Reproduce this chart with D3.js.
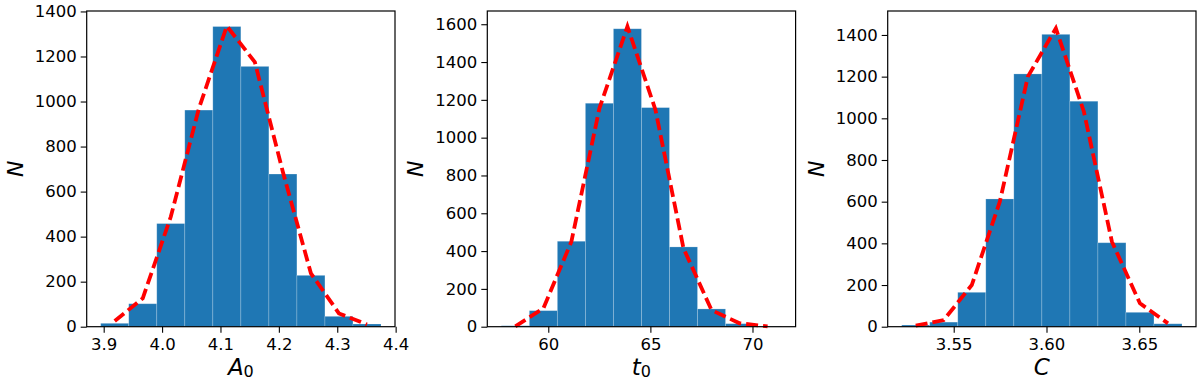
<!DOCTYPE html>
<html>
<head>
<meta charset="utf-8">
<script src="https://cdn.jsdelivr.net/npm/d3@7"></script>
<style>
  body { margin: 0; background: #fff; }
  svg { display: block; }
  text { font-family: "DejaVu Sans", sans-serif; fill: #000; }
</style>
</head>
<body>
<script>
const width = 1200, height = 382;

// A0 histogram
const a0Start = 3.8949, a0Bin = 0.048;
const a0Counts = [15, 102, 458, 962, 1333, 1156, 678, 228, 46, 12];
const a0Fit = [25, 126, 488, 968, 1335, 1175, 687, 237, 59, 10];
const a0Ticks = [3.9, 4.0, 4.1, 4.2, 4.3, 4.4];

// t0 histogram
const t0Start = 57.70, t0Bin = 1.3725;
const t0Counts = [5, 85, 452, 1182, 1576, 1159, 422, 94, 16, 2];
const t0Fit = [2, 97, 450, 1155, 1588, 1147, 415, 88, 18, 2];
const t0Ticks = [60, 65, 70];

// C histogram
const cStart = 3.52198, cBin = 0.015103;
const cCounts = [8, 22, 165, 613, 1213, 1403, 1082, 403, 69, 14];
const cFit = [5, 32, 200, 600, 1200, 1432, 1032, 408, 112, 16];
const cTicks = [3.55, 3.60, 3.65];

const yTicks1400 = [0, 200, 400, 600, 800, 1000, 1200, 1400];
const yTicks1600 = [0, 200, 400, 600, 800, 1000, 1200, 1400, 1600];

function histPanel(start, bin, counts, fit, xTicks, yTicks, yMax, fmt, label) {
    const edges = counts.map((c, i) => start + i * bin);
    const end = start + counts.length * bin;
    const pad = (end - start) * 0.05;
    return {
        bars: counts.map((c, i) => ({ x0: edges[i], x1: edges[i] + bin, n: c })),
        fit: fit.map((v, i) => ({ x: edges[i] + bin / 2, n: v })),
        xDomain: [start - pad, end + pad],
        yMax, xTicks, yTicks, fmt, label
    };
}

const panels = [
    histPanel(a0Start, a0Bin, a0Counts, a0Fit, a0Ticks, yTicks1400, 1402, d3.format(".1f"), ["A", "0"]),
    histPanel(t0Start, t0Bin, t0Counts, t0Fit, t0Ticks, yTicks1600, 1670, d3.format("d"), ["t", "0"]),
    histPanel(cStart, cBin, cCounts, cFit, cTicks, yTicks1400, 1515, d3.format(".2f"), ["C", null])
];

const lefts = [86.7, 487.3, 887.7];
const pw = 308.3, plotTop = 11, ph = 315.7;

const svg = d3.select("body").append("svg")
    .attr("width", width)
    .attr("height", height);

panels.forEach((p, k) => {
    const g = svg.append("g").attr("transform", `translate(${lefts[k]},${plotTop})`);

    const x = d3.scaleLinear().domain(p.xDomain).range([0, pw]);
    const y = d3.scaleLinear().domain([0, p.yMax]).range([ph, 0]);

    g.append("g")
        .selectAll("rect")
        .data(p.bars)
        .join("rect")
        .attr("x", d => x(d.x0))
        .attr("y", d => y(d.n))
        .attr("width", d => x(d.x1) - x(d.x0))
        .attr("height", d => y(0) - y(d.n))
        .attr("fill", "#1f77b4")
        .attr("stroke", "rgba(255,255,255,0.25)")
        .attr("stroke-width", 0.8);

    const line = d3.line().x(d => x(d.x)).y(d => y(d.n));
    g.append("path")
        .datum(p.fit)
        .attr("d", line)
        .attr("fill", "none")
        .attr("stroke", "#ff0000")
        .attr("stroke-width", 3.8)
        .attr("stroke-dasharray", "12,5");

    const xAxis = g.append("g")
        .attr("transform", `translate(0,${ph})`)
        .call(d3.axisBottom(x).tickValues(p.xTicks).tickFormat(p.fmt).tickSize(6).tickPadding(6));
    const yAxis = g.append("g")
        .call(d3.axisLeft(y).tickValues(p.yTicks).tickFormat(d3.format("d")).tickSize(6).tickPadding(4));

    [xAxis, yAxis].forEach(a => {
        a.select(".domain").remove();
        a.selectAll("line").attr("stroke", "#000").attr("stroke-width", 1.1);
        a.selectAll("text").attr("font-size", 16.5).attr("font-family", "DejaVu Sans").attr("fill", "#000");
    });

    g.append("rect")
        .attr("width", pw)
        .attr("height", ph)
        .attr("fill", "none")
        .attr("stroke", "#000")
        .attr("stroke-width", 1.2);

    // axis titles
    const xl = g.append("text")
        .attr("x", pw / 2)
        .attr("y", 364)
        .attr("text-anchor", "middle")
        .attr("font-size", 23);
    xl.append("tspan").attr("font-style", "italic").text(p.label[0]);
    if (p.label[1]) xl.append("tspan").attr("font-size", 16).attr("dy", 2).text(p.label[1]);

    g.append("text")
        .attr("transform", `translate(${-64},${ph / 2}) rotate(-90)`)
        .attr("text-anchor", "middle")
        .attr("font-size", 22)
        .attr("font-style", "italic")
        .text("N");
});
</script>
</body>
</html>
